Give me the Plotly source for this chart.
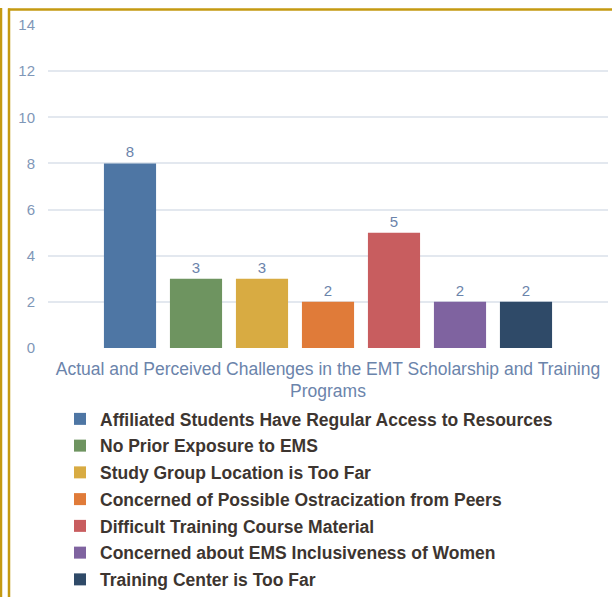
import plotly.graph_objects as go

category = "Actual and Perceived Challenges in the EMT Scholarship and Training Programs"
category_label = "Actual and Perceived Challenges in the EMT Scholarship and Training<br>Programs"
series_names = [
    "Affiliated Students Have Regular Access to Resources",
    "No Prior Exposure to EMS",
    "Study Group Location is Too Far",
    "Concerned of Possible Ostracization from Peers",
    "Difficult Training Course Material",
    "Concerned about EMS Inclusiveness of Women",
    "Training Center is Too Far",
]
series_values = [8, 3, 3, 2, 5, 2, 2]
series_colors = ["#4e76a4", "#6e9460", "#d8ab42", "#e07b39", "#c85d5f", "#7f63a0", "#2f4a68"]
y_ticks = [0, 2, 4, 6, 8, 10, 12, 14]

W, H = 612, 597
L, R, T, B = 48, 4, 25, 249
pw, ph = W - L - R, H - T - B

def px_x(x):
    return (x - L) / pw

def px_y(y):
    return (H - B - y) / ph

FONT = "Liberation Sans, Arial, sans-serif"

fig = go.Figure()
for i, (name, val, col) in enumerate(zip(series_names, series_values, series_colors)):
    fig.add_trace(go.Bar(
        x=[category], y=[val], name=name,
        marker=dict(color=col, line=dict(width=0)),
        text=[str(val)], textposition="outside",
        textfont=dict(color="#6b84ab", size=15, family=FONT),
        cliponaxis=False, showlegend=False,
    ))
for i, (name, col) in enumerate(zip(series_names, series_colors)):
    fig.add_trace(go.Scatter(
        x=[None], y=[None], mode="markers", name=name,
        marker=dict(symbol="square", size=9, color=col),
        legendgroup=f"g{i}", showlegend=True,
    ))

border = "#c49a12"
fig.update_layout(
    width=W, height=H,
    margin=dict(l=L, r=R, t=T, b=B, autoexpand=False),
    paper_bgcolor="white", plot_bgcolor="white",
    barmode="group", bargap=0.175, bargroupgap=0.21,
    showlegend=True,
    legend=dict(
        x=px_x(60), xanchor="left", y=px_y(401), yanchor="top",
        font=dict(family=FONT, size=17.5, color="#3d3530", weight="bold"),
        tracegroupgap=1, itemsizing="constant", bgcolor="rgba(0,0,0,0)",
    ),
    xaxis=dict(
        type="category", range=[-0.5, 0.5],
        tickvals=[category], ticktext=[category_label],
        tickfont=dict(family=FONT, size=17.5, color="#6b84ab"),
        showgrid=False, showline=False, ticks="", zeroline=False, ticklabelstandoff=8,
    ),
    yaxis=dict(
        range=[0, 14], tickvals=y_ticks, showgrid=True, gridcolor="#e3e8ef", gridwidth=1.5,
        tickfont=dict(family=FONT, size=15, color="#7f97b8"),
        zeroline=False, showline=False, ticks="", ticklabelstandoff=12,
    ),
    shapes=[
        dict(type="line", xref="paper", yref="paper", x0=px_x(1), x1=px_x(1), y0=px_y(8), y1=px_y(600),
             line=dict(color=border, width=2.5)),
        dict(type="line", xref="paper", yref="paper", x0=px_x(9), x1=px_x(9), y0=px_y(8.5), y1=px_y(600),
             line=dict(color=border, width=2.5)),
        dict(type="line", xref="paper", yref="paper", x0=px_x(8), x1=px_x(614), y0=px_y(9.5), y1=px_y(9.5),
             line=dict(color=border, width=2.5)),
    ],
)
fig.write_html(
    "out.html",
    config={"displayModeBar": False},
    post_script="document.body.style.margin='0px';document.body.style.overflow='hidden';",
)
